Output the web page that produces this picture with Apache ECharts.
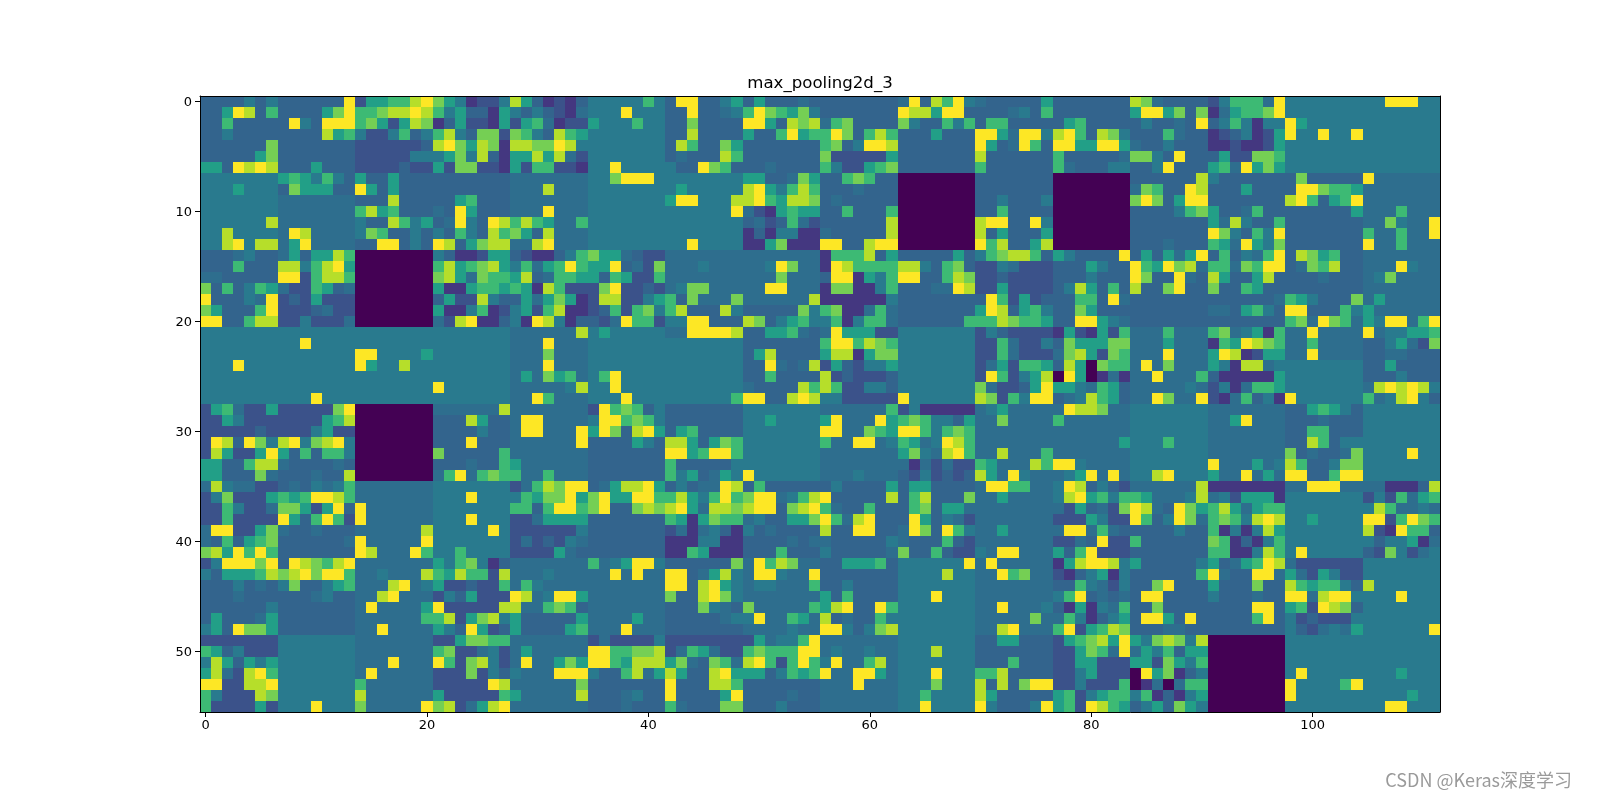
<!DOCTYPE html>
<html>
<head>
<meta charset="utf-8">
<title>max_pooling2d_3</title>
<style>html,body{margin:0;padding:0;background:#fff}#chart{width:1600px;height:800px}</style>
<script src="https://cdn.jsdelivr.net/npm/echarts@6/dist/echarts.min.js"></script>
</head>
<body>
<div id="chart"></div>
<script>
// Activation levels of one pooled layer, one string per row, split into the
// 7x7 filter tiles. Each character is a key into levelValues.
const levelValues = {0:0, 1:0.16, 2:0.25, 3:0.32, a:0.36, 4:0.41, 5:0.56, 6:0.68, 7:0.79, 8:0.89, 9:1};
const viridisStops = ['#440154','#482475','#414487','#355f8d','#2a788e','#21918c','#22a884','#44bf70','#7ad151','#bddf26','#fde725'];
const xTickStep = 20;
const yTickStep = 10;
const chartTitle = 'max_pooling2d_3';
const creditText = 'CSDN @Keras深度学习';

const rowsTop = [
'3333434 3333339 2556689 7541224 8531213 4444464 3993345 35333a3 3333333 a938694 a333335 3333333 87a3333 24666a9 4444444 4499944',
'3359836 3333579 6678898 6453315 434321a 4449444 33933a4 6976574 3333333 9885993 333a436 3333333 5995737 1a56679 4444444 4444444',
'3363333 3943999 6752587 1352215 256a122 5444644 3373333 9953878 a673333 7433646 3663333 3563333 3433a39 3464144 9544444 4444444',
'3343333 3333856 4224634 6843772 7643865 4444444 3383333 5336956 6973686 3335333 995a994 8963874 3336a33 1234125 9449449 4444444',
'3333337 3333333 2222223 8975871 8877984 4444444 3863375 3333333 6734998 3333333 953a963 9955995 a334333 1121125 4444444 4444444',
'3333357 3333333 2222244 4574831 55858a2 4444444 3a33386 3333333 7222225 3333333 8333333 633333a 7743933 3522776 4444444 4444444',
'5539898 3335333 2222322 5277221 5266221 4494444 4339763 33a3333 6422567 3333333 6333333 6a33344 3349333 56a9575 4444444 4444444',
'4444444 5654643 5335333 3333333 aaaaaaa 4479994 4444444 5533a75 3367633 0000000 3333333 0000000 3333338 4333333 3733333 9aaaaaa',
'4445444 3755533 9535333 3333333 aaa8aaa 4444444 4544444 8954686 333a333 0000000 3333333 0000000 a763398 3335333 3997665 aaaaaaa',
'4444444 aaaaaaa 3338333 3356333 aaaaaaa 4444444 5994448 8965887 3a33333 0000000 3343334 0000000 7973599 3333333 8963569 aaaaaaa',
'4444444 aaaaaaa 6856333 a395333 aaa9aaa 4444444 4444449 a215655 3363336 0000000 3363333 0000000 3333467 533a633 3333335 aaa6aaa',
'4444448 aaaaaaa 4338645 3a94398 6865aa6 4444444 4444444 3a236a2 3333338 0000000 8993394 0000000 3333333 5a84336 3333333 aa74aa9',
'4484444 a98aaaa 4763343 4364386 7538aaa 4444444 4444444 1314411 a333338 0000000 8353335 0000000 3333333 9743649 3333333 6aa6aa9',
'4489488 a59aaaa 3399343 9835788 aa89aaa 4444444 4494444 1157111 9933899 0000000 9683358 0000000 333a333 65a9547 3333333 9aa6aaa'
];
const rowsUpperMiddle = [
'333a433 a535586 0000000 4311255 3211346 755a322 aaaaaaa aaaaaaa 1666835 3333353 4678863 5433339 3535a59 3634a69 3875633 aaaaaaa',
'3336333 8846895 0000000 6856785 46a5696 5593a27 aaa4aaa aa497aa 1986666 8843673 224a222 3335433 965978a 66a7699 3a76833 aaa94aa',
'aa33333 9926886 0000000 785a766 583a665 5365226 aaaaaaa aaa7aaa 3991546 9933687 2232222 3334333 97339a3 8533583 333a333 a47aaaa',
'7363465 a22653a 0000000 5115665 6518622 2792232 a477aaa aa99aaa 1771146 333aa98 2252222 3485363 8337933 7336533 3333333 aaaaaaa',
'93334a9 2325222 0000000 3522843 35a5751 2882245 637aaa7 aaaaaa8 1111114 3333333 3962523 336639a 3333333 333333a 6543337 a5aaaaa',
'7533369 2223a22 0000000 5114612 4526811 2362674 6833384 3333374 6711a6a 3333333 5983564 3375333 3333333 aa35643 9933364 5aaaaaa',
'9933688 224222a 0000000 a289113 4198413 32a9662 4499333 8734564 461466a 3333336 6687665 339954a 3333333 3333333 67a976a 5499a69',
'4444444 4444444 4444444 4444444 aaaaaa8 4544444 aa99998 33556a3 a955522 4444444 2432222 1521526 aaa6aaa 67a4516 aa9aaaa 9a44556',
'4444444 4494444 4444444 4444444 aaa9aaa 4444444 4444444 3333333 6996876 4444444 226a224 3755577 aaa5aaa 1659876 aa6aaaa 3345a27',
'4444444 4444444 9944445 4444444 aaa7aaa 4444444 4444444 3583333 5881577 4444444 226a222 a785276 aaa9aaa 5981255 aa9aaaa 33aa333',
'4449444 4444444 9544844 4444444 aaa9aaa 4444444 4444444 339a3a8 2532445 4444444 2a52665 3850766 a9a7aaa 54188a4 4444444 3353333',
'4444444 4444444 4444444 4444444 a5a756a 4694444 4444444 3363333 8232223 4444444 2962458 09501a1 aa9aaa6 3111115 4444444 3334333',
'4444444 4444444 4444444 9444444 aaaaa48 4494444 4444444 a333386 8622443 4444444 7a22359 554a653 aaaaa4a 241a665 4444444 a898984',
'4444444 4449444 4444444 4444444 aa96aaa 4449444 4444446 9933898 4422222 9444444 8726499 3a48653 aa97aa9 21a6341 9444444 6a48943'
];
const rowsLowerMiddle = [
'256a225 2222279 0000000 aaaaaa8 aaaaaaa 2967634 3333333 4444444 aaaaaa6 2411111 a45aaaa a9887aa 4444444 aaaaaaa 3356543 4444444',
'2254222 2222568 0000000 3338533 a99aaaa 4996764 3333333 4454444 59aaa95 6764435 aa7aaaa 6aaaaaa 4444444 aa59aaa 333a333 4444444',
'2222232 2224522 0000000 3333433 a99aaa9 5973895 3563333 4444444 99aa765 9964676 aaaaaaa aaaaaaa 4444444 aaaaaaa 3366333 4444444',
'2983974 8947894 0000000 3339333 aaaaaa9 3333543 8853576 4444444 6aa99a4 65a4986 aaaaaaa aaaaaa5 4446444 aaaaaaa 3386344 4444444',
'2852259 5363664 0000000 7333336 aaaaaaa 3333333 9956996 4444444 aaaaaaa 574a896 aa8aaa6 aaaaaaa 4444444 aaaaaaa 73a33a7 4444944',
'5533688 a3333a3 0000000 333a336 5aaaaaa 3333333 6333334 4444444 aaaaaaa a1a2a22 65aaa86 994aaaa 4444444 9aaa5a4 8633477 4444444',
'553337a 333a338 0000000 a69a676 6aa6aaa 3333333 6453a54 9444444 aaa4aaa 3242323 85a94aa a459a9a 4489444 5aa9a5a 9933699 4444444',
'a84aa22 3a34a46 aaaaaaa 4444444 2a68799 3a58895 343aa98 3633333 3433335 3553333 a9966aa 4983432 aaaaaa8 1111111 aa999aa aa11138',
'2472225 6569986 aaaaaaa 4449444 4657795 7955996 6854696 799a468 9333338 3683337 aa5aaaa 4895646 65aaa48 a425551 4444444 2426a56',
'226422a 7752593 9aaaaaa 4444444 6636996 7933787 895a887 8993789 6a33633 367355a aaaaaaa a253a27 98a3975 685a566 4444444 486aa4a',
'2262222 9536962 9aaaaaa 4449444 22a5555 3333333 6515766 a433557 96a8933 39534a2 aaaaaaa 2225422 963497a 6764898 4454444 9926976',
'a992257 a33a333 aaaaaa8 4444494 2222224 3333333 2a1a431 43a3333 8339933 a973964 aa5aaaa a99a6a3 3333433 6141485 4444444 8219663',
'a363567 333333a 9aaaaa9 4444444 2a2324a 3333333 1114411 3333a3a a333334 a333632 aaaaaaa 22a3922 6333333 7613146 4444444 434451a',
'7859696 3333333 98aaa96 4464444 22225a3 3333333 1165111 3336333 433333a 7336322 4a99aaa 5369222 3333333 6611486 4944444 32742a4'
];
const rowsBottom = [
'2499979 3987689 aaaaaaa 5467413 aaaaaaa 6a45994 3333337 a9687aa 3355563 4444449 a9aaaaa 1589984 5333334 53a5698 a222222 4444444',
'4355568 7897996 aa4aaa8 6586628 aaa4aaa aa9a9aa 993a584 a994aa9 3333333 4444844 aa967aa 2134514 3333336 9a3399a 5a25422 4444444',
'33343a3 4733456 aaa89a4 5223226 a64aaaa aaaaaaa 9938954 a44aaa6 3343333 4444444 aaaaaaa 3364a24 3379333 5333733 8656643 8444444',
'333a333 333a433 aa89aaa 2435222 98a4995 aaaaaaa 7338974 aaaaaaa 5363333 4449444 aaaaaaa 4693a3a 3993333 4333a33 99a8994 4449444',
'3333334 3333333 a9aaaa5 9222228 8aa6763 aaaaaaa 33374a3 7aaaaa6 5893396 4444444 aa9aaa4 31514a6 3373333 3333993 5629873 4444444',
'35333a5 3333333 aaaaaa6 6825784 5333335 aaaa5aa 33333a4 49aa65a 83a3364 4444444 aaaaa7a a641345 3995393 3333693 4232224 4444444',
'4539775 3333333 aa9aaaa 5439523 5333356 aaa9aaa 3333333 aaaa4aa 9943478 4444444 aa89aaa 6925687 333aa33 3333333 432a4a5 4444449',
'2222222 4444444 aaaaaaa 2257766 aaaaaaa 2a22224 2222222 25a4469 aaaaaaa 4444444 3355333 2567859 5478748 0000000 4444444 4444444',
'6534222 4444444 aaaaaaa 6722a42 a5aaaaa 9966778 2a65a22 6766699 a4aa4aa 4448444 3333333 22576a9 a546355 0000000 4444444 4444444',
'4853545 4444444 aaa9aaa 9627842 a9aa575 9965888 57a376a 8962696 49aa68a 4444444 3336333 2255222 5527546 0000000 4444444 4444444',
'58a2896 4444444 a9aaaaa 2227243 4aaa999 43368a5 8533895 5534656 9aa995a 4449444 6683333 2245222 0957134 0000000 4944444 4445444',
'9922889 4444444 6aaaaaa 2222298 aaaaaa7 3333333 9333886 3333333 aaa9aaa 4447444 8383799 2242226 01a0a66 0000000 9444469 4444444',
'6422287 4444444 8aaaaaa 5222226 5aaaaa8 333a433 9333359 3333a33 aaaaaaa 4464444 8533333 5624566 4613145 0000000 9444444 4444544',
'6222252 4449444 7aaaaa9 782a589 aaaaaaa 333a333 6a33377 3334333 aaaaaaa 4494444 9433349 5629865 3453754 0000000 4444444 4499444'
];

const heatRows = rowsTop.concat(rowsUpperMiddle, rowsLowerMiddle, rowsBottom)
  .map(function (r) { return r.replace(/ /g, ''); });

const xCategories = heatRows[0].split('').map(function (_, i) { return String(i); });
const yCategories = heatRows.map(function (_, i) { return String(i); });

const cells = [];
heatRows.forEach(function (row, y) {
  row.split('').forEach(function (ch, x) {
    cells.push([x, y, levelValues[ch]]);
  });
});

// Each cell is snapped to whole pixels so neighbouring cells meet without seams.
function renderCell(params, api) {
  const centre = api.coord([api.value(0), api.value(1)]);
  const band = api.size([1, 1]);
  const x0 = Math.round(centre[0] - band[0] / 2);
  const x1 = Math.round(centre[0] + band[0] / 2);
  const y0 = Math.round(centre[1] - band[1] / 2);
  const y1 = Math.round(centre[1] + band[1] / 2);
  return {
    type: 'rect',
    shape: { x: x0, y: y0, width: x1 - x0, height: y1 - y0 },
    style: { fill: api.visual('color') },
    silent: true
  };
}

const tickFont = { color: '#000', fontFamily: 'DejaVu Sans', fontSize: 13 };
const borderLine = { show: true, onZero: false, lineStyle: { color: '#000', width: 1 } };

const chart = echarts.init(document.getElementById('chart'), null, { renderer: 'canvas' });
chart.setOption({
  animation: false,
  backgroundColor: '#fff',
  title: {
    text: chartTitle,
    left: 815,
    top: 70,
    textAlign: 'center',
    textStyle: { color: '#000', fontFamily: 'DejaVu Sans', fontWeight: 'normal', fontSize: 16.6 }
  },
  grid: { left: 200, right: 160, top: 96, bottom: 88 },
  tooltip: { show: false },
  xAxis: [
    {
      type: 'category', position: 'bottom', data: xCategories, boundaryGap: true, z: 10,
      axisLine: borderLine,
      axisTick: { show: true, alignWithLabel: true, interval: xTickStep - 1, length: 5, lineStyle: { color: '#000' } },
      axisLabel: Object.assign({ interval: xTickStep - 1, margin: 7 }, tickFont),
      splitLine: { show: false }
    },
    {
      type: 'category', position: 'top', data: xCategories, z: 10,
      axisLine: borderLine, axisTick: { show: false }, axisLabel: { show: false }, splitLine: { show: false }
    }
  ],
  yAxis: [
    {
      type: 'category', position: 'left', inverse: true, data: yCategories, boundaryGap: true, z: 10,
      axisLine: borderLine,
      axisTick: { show: true, alignWithLabel: true, interval: yTickStep - 1, length: 5, lineStyle: { color: '#000' } },
      axisLabel: {
        interval: yTickStep - 1,
        margin: 8,
        formatter: '{tick|{value}}',
        rich: { tick: Object.assign({ padding: [3, 0, 0, 0] }, tickFont) }
      },
      splitLine: { show: false }
    },
    {
      type: 'category', position: 'right', inverse: true, data: yCategories, z: 10,
      axisLine: borderLine, axisTick: { show: false }, axisLabel: { show: false }, splitLine: { show: false }
    }
  ],
  visualMap: { show: false, type: 'continuous', min: 0, max: 1, dimension: 2, seriesIndex: 0, inRange: { color: viridisStops } },
  series: [{
    type: 'custom',
    coordinateSystem: 'cartesian2d',
    renderItem: renderCell,
    data: cells,
    encode: { x: 0, y: 1 },
    progressive: 0,
    animation: false,
    silent: true
  }],
  graphic: [{
    type: 'text',
    right: 28,
    top: 771,
    silent: true,
    style: {
      text: creditText,
      fill: '#9a9a9a',
      font: '18px "Noto Sans CJK SC", "Noto Sans", sans-serif'
    }
  }]
});
</script>
</body>
</html>
